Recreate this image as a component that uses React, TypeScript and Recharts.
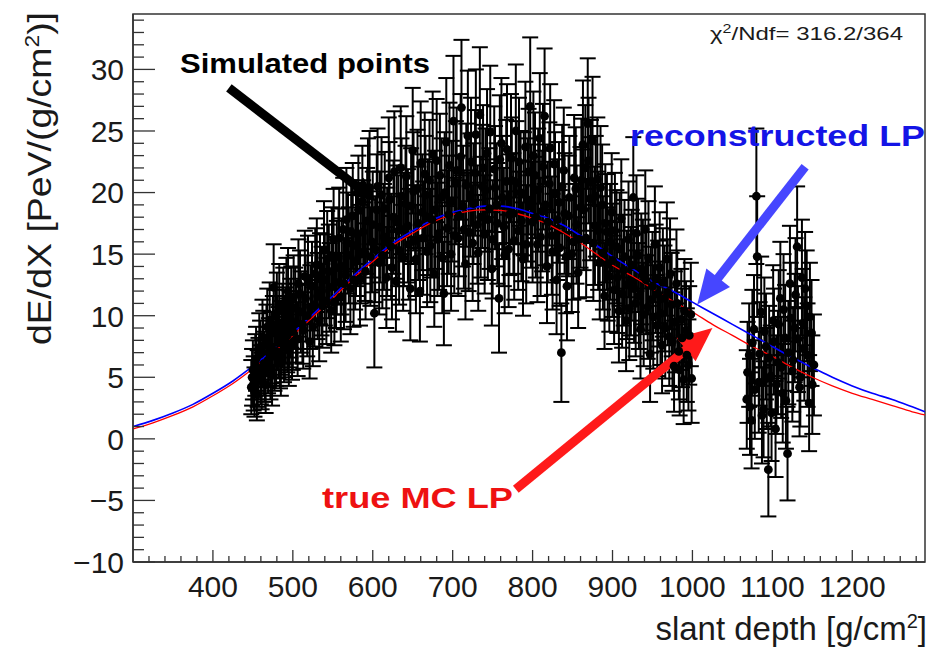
import React from 'react';
import {
  ComposedChart,
  Scatter,
  Line,
  XAxis,
  YAxis,
  ErrorBar,
  ReferenceLine,
  ReferenceArea,
} from 'recharts';

// simulated profile points: [slant depth, dE/dX, error]
const risePoints = [
  [448, 4.2, 2.2], [449, 5.0, 2.3], [450, 5.6, 2.4], [451, 4.5, 2.2], [452, 3.8, 2.0], [453, 6.0, 2.5], [454, 6.5, 2.6],
  [455, 3.6, 2.1], [456, 4.9, 2.3], [457, 5.7, 2.5], [458, 7.4, 2.8], [459, 6.9, 2.7], [460, 5.2, 2.4], [461, 4.7, 2.3],
  [462, 8.3, 3.0], [463, 7.6, 2.8], [464, 6.1, 2.6], [465, 5.5, 2.5], [466, 4.4, 2.3], [467, 8.0, 2.9], [468, 9.1, 3.1],
  [469, 6.4, 2.7], [470, 7.0, 2.8], [471, 9.6, 3.1], [472, 5.8, 2.6], [473, 7.4, 2.9], [474, 5.2, 2.5], [475, 8.6, 3.0],
  [476, 12.3, 3.5], [477, 6.7, 2.8], [478, 9.0, 3.1], [479, 7.1, 2.8], [480, 10.2, 3.3], [481, 8.6, 3.0], [482, 7.8, 2.9],
  [483, 10.9, 3.3], [484, 6.9, 2.8], [485, 6.2, 2.7], [486, 8.2, 3.0], [487, 9.4, 3.2], [488, 10.6, 3.3], [489, 7.5, 2.9],
  [490, 8.0, 3.0], [491, 9.2, 3.1], [492, 11.3, 3.4], [493, 8.4, 3.0], [494, 12.0, 3.5], [495, 7.2, 2.9], [496, 8.9, 3.1],
  [497, 9.8, 3.2], [498, 10.7, 3.3], [499, 7.7, 2.9], [500, 8.7, 3.1],
  [501, 11.5, 3.4], [503, 10.6, 3.3], [504, 9.4, 3.2], [506, 8.1, 3.0], [507, 12.6, 3.6], [509, 11.8, 3.5], [510, 10.3, 3.3],
  [512, 9.3, 3.2], [513, 8.8, 3.1], [515, 13.2, 3.7], [516, 11.4, 3.5], [518, 10.0, 3.3], [519, 12.9, 3.6], [521, 7.9, 3.0],
  [522, 10.7, 3.4], [524, 12.4, 3.6], [525, 9.1, 3.2], [527, 10.9, 3.4], [528, 13.4, 3.7], [530, 14.1, 3.8], [531, 11.6, 3.5],
  [533, 9.6, 3.3], [534, 13.0, 3.7], [536, 12.0, 3.6], [537, 10.8, 3.4], [539, 15.3, 4.0], [540, 12.9, 3.7], [542, 11.2, 3.5],
  [543, 14.6, 3.9], [545, 13.6, 3.8], [546, 12.3, 3.6], [548, 10.4, 3.4], [549, 14.9, 3.9], [551, 16.2, 4.1], [552, 11.1, 3.5],
  [554, 12.7, 3.7], [555, 13.9, 3.8], [557, 14.8, 3.9], [558, 16.3, 4.1], [560, 11.5, 3.6], [561, 14.0, 3.9], [563, 17.0, 4.2],
  [564, 12.6, 3.7], [566, 13.3, 3.8], [567, 17.8, 4.2], [569, 15.9, 4.1], [570, 14.9, 3.9], [572, 12.2, 3.7], [573, 16.8, 4.2],
  [575, 18.1, 4.3], [576, 12.9, 3.8], [578, 14.4, 3.9], [579, 15.7, 4.1], [581, 16.6, 4.2], [582, 18.6, 4.4], [584, 13.0, 3.8],
  [585, 15.0, 4.0], [587, 19.3, 4.5], [588, 16.8, 4.2], [590, 15.2, 4.0], [591, 13.6, 3.9], [593, 17.7, 4.3], [594, 19.9, 4.5],
  [596, 20.4, 4.6], [597, 14.8, 4.0], [599, 16.0, 4.1], [600, 17.4, 4.3],
];
const peakPoints = [
  [602, 10.2, 4.4], [603, 15.4, 4.3], [605, 18.6, 4.5], [606, 20.5, 4.7], [608, 14.3, 4.2], [609, 17.2, 4.5], [611, 19.8, 4.7],
  [612, 14.9, 4.3], [614, 16.4, 4.3], [615, 18.7, 4.6], [617, 13.1, 4.1], [618, 16.0, 4.4], [620, 21.2, 4.9], [621, 19.4, 4.7],
  [623, 15.6, 4.3], [624, 13.9, 4.2], [626, 18.0, 4.6], [627, 21.7, 4.9], [629, 12.8, 4.1], [630, 17.6, 4.6], [632, 16.9, 4.5],
  [633, 15.3, 4.4], [635, 22.0, 5.0], [636, 19.7, 4.7], [638, 14.7, 4.3], [639, 17.0, 4.6], [641, 19.1, 4.7], [642, 21.3, 4.9],
  [644, 17.3, 4.6], [645, 15.8, 4.5], [647, 12.2, 4.2], [648, 18.9, 4.7], [650, 23.4, 5.1], [651, 20.1, 4.8], [653, 16.1, 4.5],
  [654, 14.6, 4.4], [656, 20.3, 4.8], [657, 17.5, 4.6], [659, 12.0, 4.1], [660, 22.4, 5.0], [662, 18.4, 4.7], [663, 16.3, 4.6],
  [665, 21.5, 5.0], [666, 19.8, 4.8], [668, 15.2, 4.5], [669, 18.0, 4.7], [671, 21.0, 4.9], [672, 15.7, 4.6], [674, 17.8, 4.7],
  [675, 23.1, 5.1], [677, 13.4, 4.3], [678, 18.6, 4.8], [680, 22.6, 5.0], [681, 16.2, 4.6], [683, 16.7, 4.6], [684, 21.4, 5.0],
  [686, 19.6, 4.8], [687, 14.7, 4.5], [689, 11.8, 4.2], [690, 20.0, 4.9], [692, 24.1, 5.2], [693, 17.1, 4.7], [695, 18.2, 4.8],
  [696, 22.2, 5.1], [698, 15.0, 4.6], [699, 19.3, 4.9], [701, 25.8, 5.3], [702, 16.5, 4.7], [704, 20.8, 5.0], [705, 21.8, 5.1],
  [707, 16.3, 4.7], [708, 18.1, 4.9], [710, 22.9, 5.1], [711, 26.9, 5.5], [713, 18.9, 4.9], [714, 17.0, 4.8], [716, 14.2, 4.5],
  [717, 20.6, 5.0], [719, 24.6, 5.3], [720, 16.8, 4.8], [722, 19.8, 5.0], [723, 22.5, 5.2], [725, 15.9, 4.7], [726, 19.1, 4.9],
  [728, 21.6, 5.1], [729, 24.7, 5.3], [731, 17.4, 4.8], [732, 15.1, 4.7], [734, 26.3, 5.5], [735, 18.0, 4.9], [737, 20.5, 5.0],
  [738, 22.0, 5.1], [740, 16.6, 4.8], [741, 20.2, 5.0], [743, 23.2, 5.2], [744, 17.8, 4.9], [746, 18.7, 4.9], [747, 24.9, 5.4],
  [749, 13.8, 4.6], [750, 16.2, 4.8], [752, 21.9, 5.1], [753, 20.4, 5.0], [755, 19.0, 5.0], [756, 17.5, 4.9], [758, 11.4, 4.4],
  [759, 22.7, 5.2], [761, 24.0, 5.3], [762, 19.6, 5.0], [764, 17.2, 4.8], [765, 14.9, 4.7], [767, 20.9, 5.0], [768, 23.5, 5.3],
  [770, 15.4, 4.7], [771, 18.2, 4.9], [773, 22.8, 5.2], [774, 21.0, 5.1], [776, 18.3, 4.9], [777, 16.1, 4.8], [779, 25.0, 5.4],
  [780, 20.8, 5.0], [782, 16.9, 4.8], [783, 22.5, 5.2], [785, 20.0, 5.0], [786, 17.7, 4.9], [788, 14.6, 4.6], [789, 19.9, 5.0],
  [791, 23.7, 5.3], [792, 15.8, 4.8], [794, 19.4, 5.0], [795, 21.7, 5.1], [797, 27.0, 5.6], [798, 18.9, 5.0], [800, 17.6, 4.9],
];
const fallPoints = [
  [801, 23.0, 5.2], [803, 21.4, 5.1], [804, 18.0, 4.9], [806, 15.8, 4.7], [807, 20.2, 5.0], [809, 24.4, 5.3], [810, 16.4, 4.8],
  [812, 18.5, 4.9], [813, 22.1, 5.1], [815, 26.2, 5.5], [816, 19.0, 4.9], [818, 14.0, 4.6], [819, 17.6, 4.9], [821, 20.7, 5.0],
  [822, 23.6, 5.2], [824, 16.5, 4.8], [825, 15.2, 4.7], [827, 22.3, 5.2], [828, 19.9, 5.0], [830, 12.9, 4.4], [831, 17.8, 4.9],
  [833, 19.2, 4.9], [834, 15.5, 4.7], [836, 7.0, 4.0], [837, 20.5, 5.0], [839, 21.8, 5.1], [840, 18.3, 4.9], [842, 14.8, 4.6],
  [843, 12.4, 4.4], [845, 18.1, 4.9], [846, 19.6, 5.0], [849, 15.0, 4.7], [851, 16.0, 4.7], [852, 21.2, 5.1], [854, 20.3, 5.0],
  [855, 17.4, 4.8], [857, 13.5, 4.5], [858, 16.2, 4.8], [860, 18.8, 4.9], [861, 21.0, 5.0], [863, 23.9, 5.2], [864, 18.6, 4.9],
  [866, 22.0, 5.1], [867, 16.3, 4.8], [869, 25.6, 5.3], [870, 22.6, 5.1], [872, 19.5, 5.0], [873, 20.9, 5.0], [875, 24.2, 5.2],
  [876, 15.9, 4.7], [878, 17.3, 4.8], [879, 19.7, 4.9], [881, 21.1, 5.0], [882, 16.9, 4.8], [884, 14.3, 4.6], [885, 20.4, 5.0],
  [887, 19.0, 4.9], [888, 15.1, 4.6], [890, 11.6, 4.3], [891, 17.5, 4.8], [893, 16.8, 4.7], [894, 14.2, 4.6], [896, 13.2, 4.5],
  [897, 16.0, 4.7], [899, 18.4, 4.8], [900, 14.5, 4.6],
  [902, 12.1, 4.4], [903, 16.9, 4.7], [905, 15.6, 4.6], [906, 13.1, 4.5], [908, 10.4, 4.2], [909, 15.4, 4.6], [911, 17.9, 4.8],
  [912, 11.8, 4.4], [914, 13.7, 4.5], [915, 14.8, 4.6], [917, 9.6, 4.1], [918, 12.5, 4.4], [920, 16.2, 4.7], [921, 10.6, 4.2],
  [923, 12.8, 4.4], [924, 14.1, 4.5], [926, 19.6, 4.9], [927, 12.2, 4.4], [929, 11.0, 4.3], [930, 16.7, 4.7], [932, 14.9, 4.6],
  [933, 11.6, 4.3], [935, 8.9, 4.0], [936, 13.8, 4.5], [938, 13.3, 4.5], [939, 10.1, 4.2], [941, 17.0, 4.8], [942, 12.9, 4.4],
  [944, 10.7, 4.2], [945, 14.7, 4.6], [947, 6.9, 3.9], [948, 11.3, 4.3], [950, 12.4, 4.4], [951, 9.9, 4.2], [953, 15.8, 4.7],
  [954, 13.0, 4.4], [956, 9.2, 4.1], [957, 11.8, 4.3], [959, 13.9, 4.5], [960, 10.2, 4.2], [962, 7.6, 3.9], [963, 12.7, 4.4],
  [965, 11.4, 4.3], [966, 9.0, 4.1], [968, 14.6, 4.6], [969, 11.9, 4.3], [971, 8.3, 4.0], [972, 13.4, 4.5], [974, 10.9, 4.2],
  [975, 7.9, 4.0], [977, 5.9, 3.7], [978, 9.5, 4.1], [980, 12.6, 4.4], [981, 11.0, 4.3], [983, 7.1, 3.9], [984, 5.6, 3.7],
  [986, 9.7, 4.1], [987, 8.2, 4.0], [989, 4.8, 3.6], [990, 10.4, 4.2], [992, 8.8, 4.0], [993, 6.8, 3.8], [995, 6.0, 3.7],
  [996, 8.4, 4.0], [998, 10.1, 4.2], [999, 4.9, 3.6],
];
const tailPoints = [
  [1068, 3.2, 4.0], [1069, 5.4, 4.1], [1071, 6.8, 4.2], [1072, 2.6, 3.9], [1074, 1.5, 3.9], [1075, 7.8, 4.3], [1077, 8.9, 4.4],
  [1078, 4.0, 4.0], [1080, 19.7, 5.5], [1081, 14.8, 4.9], [1083, 4.6, 4.1], [1084, 6.9, 4.2], [1086, 10.3, 4.5], [1087, 1.9, 3.9],
  [1089, 2.4, 3.9], [1090, 8.7, 4.4], [1092, 7.5, 4.3], [1093, 4.9, 4.1], [1095, -2.5, 3.8], [1096, 6.6, 4.2], [1098, 5.1, 4.1],
  [1099, 2.1, 3.9], [1101, 9.6, 4.5], [1102, 7.9, 4.3], [1104, 0.8, 3.9], [1105, 4.4, 4.0], [1107, 6.2, 4.2], [1108, 9.3, 4.4],
  [1110, 11.4, 4.6], [1111, 5.8, 4.1], [1113, 3.7, 4.0], [1114, 10.5, 4.5], [1116, 8.2, 4.3], [1117, 3.1, 3.9], [1119, -1.2, 3.8],
  [1120, 7.0, 4.2], [1122, 12.6, 4.7], [1123, 9.8, 4.5], [1125, 5.5, 4.1], [1126, 6.4, 4.2], [1128, 9.0, 4.4], [1129, 11.7, 4.6],
  [1131, 15.6, 4.9], [1132, 8.1, 4.3], [1134, 4.2, 4.0], [1135, 5.0, 4.0], [1137, 13.1, 4.7], [1138, 9.4, 4.4], [1140, 7.3, 4.2],
  [1141, 12.2, 4.6], [1143, 10.8, 4.5], [1144, 6.8, 4.2], [1146, 2.9, 3.9], [1147, 9.9, 4.4], [1149, 8.6, 4.3], [1150, 4.4, 4.0],
  [1152, 6.0, 4.1],
];

// fitted longitudinal profiles
const curveX = [300, 325, 350, 375, 400, 425, 450, 475, 500, 525, 550, 575, 600, 625, 650, 675, 700, 720, 740, 760, 780, 800,
  820, 840, 860, 880, 900, 925, 950, 975, 1000, 1025, 1050, 1075, 1100, 1125, 1150, 1175, 1200, 1225, 1250, 1275, 1291];
const recoY = [1.0, 1.5, 2.1, 2.8, 3.7, 4.7, 5.9, 7.2, 8.6, 10.1, 11.6, 13.2, 14.6, 15.9, 16.9, 17.8, 18.4, 18.7, 18.9, 18.9,
  18.7, 18.3, 17.9, 17.3, 16.5, 15.7, 14.8, 13.8, 12.8, 12.0, 11.1, 10.2, 9.3, 8.4, 7.5, 6.6, 5.8, 5.0, 4.3, 3.7, 3.2, 2.6, 2.2];
const trueY = [0.8, 1.3, 1.9, 2.6, 3.5, 4.5, 5.7, 7.0, 8.4, 9.9, 11.4, 13.0, 14.4, 15.7, 16.7, 17.6, 18.2, 18.5, 18.6, 18.55,
  18.3, 17.9, 17.4, 16.7, 15.9, 15.0, 14.1, 13.2, 12.2, 11.2, 10.3, 9.3, 8.4, 7.5, 6.7, 5.8, 5.0, 4.3, 3.7, 3.2, 2.7, 2.2, 1.95];

const xTickLabels = [400, 500, 600, 700, 800, 900, 1000, 1100, 1200];
const yTickLabels = [-10, -5, 0, 5, 10, 15, 20, 25, 30];

const xTicks: number[] = [];
for (let v = 320; v <= 1280; v += 20) xTicks.push(v);
const yTicks: number[] = [];
for (let v = -10; v <= 34; v += 1) yTicks.push(v);

const points = [...risePoints, ...peakPoints, ...fallPoints, ...tailPoints].map(([x, y, err]) => ({ x, y, err }));
const recoCurve = curveX.map((x, i) => ({ x, y: recoY[i] }));
const trueCurve = curveX.map((x, i) => ({ x, y: trueY[i] }));

const FONT = '"Liberation Sans", Arial, Helvetica, sans-serif';
const AXIS = '#333';

const XTick = (props: any) => {
  const { x, y, payload } = props;
  const v = payload.value;
  const major = xTickLabels.includes(v);
  return (
    <g>
      <line x1={x} x2={x} y1={y} y2={y - (major ? 12 : 6)} stroke={AXIS} strokeWidth={1.3} />
      {major && (
        <text x={x} y={y + 35} textAnchor="middle" fontSize={30} fontFamily={FONT} fill="#1a1a1a">
          {v}
        </text>
      )}
    </g>
  );
};

const YTick = (props: any) => {
  const { x, y, payload } = props;
  const v = payload.value;
  const major = yTickLabels.includes(v);
  return (
    <g>
      <line x1={x} x2={x + (major ? 22 : 11)} y1={y} y2={y} stroke={AXIS} strokeWidth={1.3} />
      {major && (
        <text x={x - 9} y={y} dy="0.36em" textAnchor="end" fontSize={30} fontFamily={FONT} fill="#1a1a1a">
          {v < 0 ? '\u2212' + Math.abs(v) : v}
        </text>
      )}
    </g>
  );
};

const dot = (p: any) => <circle cx={p.cx} cy={p.cy} r={4.4} fill="#000" />;

const arrow = (color: string, w: number, headLen: number, headW: number) => (p: any) => {
  const { x1, y1, x2, y2 } = p;
  const dx = x2 - x1;
  const dy = y2 - y1;
  const len = Math.sqrt(dx * dx + dy * dy);
  const ux = dx / len;
  const uy = dy / len;
  const bx = x2 - ux * headLen;
  const by = y2 - uy * headLen;
  const nx = -uy * headW / 2;
  const ny = ux * headW / 2;
  return (
    <g>
      <line x1={x1} y1={y1} x2={bx + ux * 2} y2={by + uy * 2} stroke={color} strokeWidth={w} />
      <polygon points={`${x2},${y2} ${bx + nx},${by + ny} ${bx - nx},${by - ny}`} fill={color} />
    </g>
  );
};

const App: React.FC = () => {
  return (
    <div style={{ position: 'absolute', left: 0, top: 0, width: 932, height: 651, background: '#fff' }}>
      <ComposedChart width={932} height={651} margin={{ top: 14, right: 7, bottom: 0, left: 0 }}>
        <XAxis
          dataKey="x"
          type="number"
          domain={[300, 1291]}
          allowDataOverflow
          ticks={xTicks}
          interval={0}
          tick={<XTick />}
          tickLine={false}
          tickSize={0}
          tickMargin={0}
          height={89}
          axisLine={{ stroke: AXIS, strokeWidth: 1.5 }}
        />
        <YAxis
          type="number"
          domain={[-10, 34.5]}
          allowDataOverflow
          ticks={yTicks}
          interval={0}
          tick={<YTick />}
          tickLine={false}
          tickSize={0}
          tickMargin={0}
          width={133}
          axisLine={{ stroke: AXIS, strokeWidth: 1.5 }}
        />
        <ReferenceArea x1={300} x2={1291} y1={-10} y2={34.5} fill="none" stroke={AXIS} strokeWidth={1.5} ifOverflow="visible" />
        <Scatter data={points} dataKey="y" shape={dot} isAnimationActive={false}>
          <ErrorBar dataKey="err" direction="y" width={8} stroke="#000" strokeWidth={2} isAnimationActive={false} />
        </Scatter>
        <Line data={recoCurve} dataKey="y" type="monotone" dot={false} stroke="#0000ff" strokeWidth={1.6} isAnimationActive={false} />
        <Line data={trueCurve} dataKey="y" type="monotone" dot={false} stroke="#ff0000" strokeWidth={1.3} isAnimationActive={false} />
        <ReferenceLine
          segment={[{ x: 420, y: 28.5 }, { x: 604, y: 19.3 }]}
          ifOverflow="visible"
          shape={arrow('#000', 9, 24, 22)}
        />
        <ReferenceLine
          segment={[{ x: 1141, y: 22.1 }, { x: 1006, y: 10.9 }]}
          ifOverflow="visible"
          shape={arrow('#4646ff', 9, 34, 30)}
        />
        <ReferenceLine
          segment={[{ x: 779, y: -4.1 }, { x: 1025, y: 9.0 }]}
          ifOverflow="visible"
          shape={arrow('#ff1a1a', 9, 34, 30)}
        />
      </ComposedChart>
      <svg width={932} height={651} style={{ position: 'absolute', left: 0, top: 0, pointerEvents: 'none' }}>
        <text
          transform="translate(51,12) rotate(-90)"
          textAnchor="end"
          fontSize={33}
          fontFamily={FONT}
          fill="#1a1a1a"
          textLength={333}
          lengthAdjust="spacingAndGlyphs"
        >
          dE/dX [PeV/(g/cm<tspan dy={-12} fontSize={20}>2</tspan><tspan dy={12}>)]</tspan>
        </text>
        <text x={927} y={640} textAnchor="end" fontSize={33} fontFamily={FONT} fill="#1a1a1a">
          slant depth [g/cm<tspan dy={-12} fontSize={20}>2</tspan><tspan dy={12}>]</tspan>
        </text>
        <text x={710} y={40} fontSize={18} fontFamily={FONT} fill="#1a1a1a" textLength={193} lengthAdjust="spacingAndGlyphs">
          {'\u03c7'}<tspan dy={-7} fontSize={12}>2</tspan><tspan dy={7}>/Ndf=  316.2/364</tspan>
        </text>
        <text x={180} y={73} fontSize={27} fontWeight="bold" fontFamily={FONT} fill="#000" textLength={250} lengthAdjust="spacingAndGlyphs">
          Simulated points
        </text>
        <text x={630} y={146} fontSize={30} fontWeight="bold" fontFamily={FONT} fill="#1414e6" textLength={295} lengthAdjust="spacingAndGlyphs">
          reconstructed LP
        </text>
        <text x={322} y={508} fontSize={30} fontWeight="bold" fontFamily={FONT} fill="#ee1111" textLength={191} lengthAdjust="spacingAndGlyphs">
          true MC LP
        </text>
      </svg>
    </div>
  );
};

export default App;
